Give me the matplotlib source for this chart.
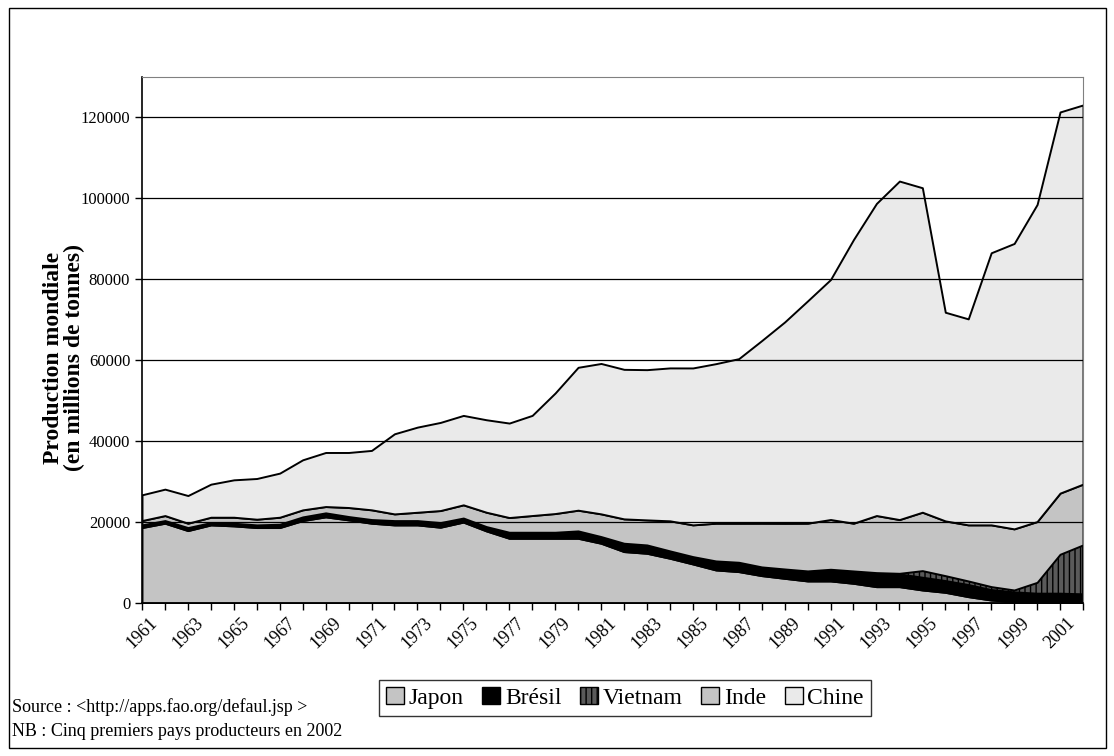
import matplotlib.pyplot as plt
from matplotlib.patches import Rectangle, Patch

years = list(range(1961, 2003))

japon = [18650, 19720, 17900, 19300, 19060, 18650, 18650, 20380, 21290, 20540,
         19720, 19300, 19300, 18730, 20000, 17820, 16000, 16000, 16000, 16000,
         14770, 12710, 12290, 11060, 9650, 8170, 7760, 6770, 6100, 5450,
         5450, 4870, 4040, 4040, 3220, 2640, 1570, 740, 330, 200, 150, 100]
bresil = [660, 660, 740, 580, 660, 660, 820, 900, 990, 830,
          910, 1070, 1070, 1150, 1000, 1070, 1490, 1490, 1490, 1820,
          1650, 2060, 2060, 1820, 1820, 2230, 2310, 2150, 2310, 2480,
          2890, 3050, 3470, 3050, 3050, 2800, 2890, 2480, 2310, 2110, 2160, 2050]
vietnam = [0] * 32 + [0, 250, 1730, 1320, 990, 830, 580, 2800, 9740, 12210]
inde = [1070, 1230, 1080, 1320, 1480, 1400, 1730, 1740, 1560, 2230,
        2400, 1650, 2060, 2970, 3260, 3550, 3630, 4130, 4620, 5120,
        5610, 6020, 6190, 7430, 7840, 9320, 9650, 10810, 11300, 11800,
        12290, 11800, 14110, 13280, 14440, 13530, 13860, 15260, 15100, 15020, 15110, 15020]
chine = [6360, 6530, 6840, 8170, 9240, 10060, 10900, 12370, 13360, 13600,
         14680, 19800, 21040, 21780, 22100, 22850, 23350, 24750, 29790, 35310,
         37170, 36960, 37130, 37790, 38780, 39430, 40670, 45130, 49750, 54940,
         59320, 70120, 77140, 83660, 80190, 51570, 50910, 67250, 70540, 78370, 94200, 93710]

series_names = ['Japon', 'Brésil', 'Vietnam', 'Inde', 'Chine']
fill_colors = ['#c4c4c4', '#000000', '#5a5a5a', '#c4c4c4', '#eaeaea']

plt.rcParams['font.family'] = ['Liberation Serif', 'DejaVu Serif']

fig = plt.figure(figsize=(11.14, 7.56), dpi=100)
ax = fig.add_axes([142 / 1114, 1 - 603 / 756, 941 / 1114, 526 / 756])

areas = ax.stackplot(years, japon, bresil, vietnam, inde, chine,
                     colors=fill_colors, edgecolor='black', linewidth=1.4)
areas[2].set_hatch('|||')

ax.set_xlim(1961, 2002)
ax.set_ylim(0, 130000)
ax.set_yticks(range(0, 120001, 20000))
ax.tick_params(axis='y', labelsize=12, direction='out', length=5, width=1)
ax.set_xticks(years)
ax.set_xticklabels([str(y) if (y - 1961) % 2 == 0 else '' for y in years],
                   rotation=45, ha='center', va='top')
ax.tick_params(axis='x', labelsize=13, direction='out', length=5, width=1, pad=3)

ax.yaxis.grid(True, color='black', linewidth=0.9)
ax.set_axisbelow(False)
for side in ['top', 'right']:
    ax.spines[side].set_color('#808080')
for side in ['left', 'bottom']:
    ax.spines[side].set_linewidth(1.2)

fig.text(64 / 1114, 1 - 358 / 756, 'Production mondiale\n(en millions de tonnes)',
         rotation=90, ha='center', va='center', fontsize=17, fontweight='bold',
         linespacing=1.0)

handles = [Patch(facecolor=c, edgecolor='black', linewidth=1) for c in fill_colors]
handles[2].set_hatch('|||')
leg = fig.legend(handles, series_names, ncol=5, loc='center',
                 bbox_to_anchor=(625 / 1114, 1 - 698 / 756), fontsize=17,
                 frameon=True, fancybox=False, edgecolor='black',
                 handlelength=0.75, handleheight=0.75, handletextpad=0.2,
                 columnspacing=0.8, borderpad=0.3)
leg.get_frame().set_linewidth(1)

fig.text(12 / 1114, 1 - 707 / 756, 'Source : <http://apps.fao.org/defaul.jsp >',
         fontsize=13, va='center')
fig.text(12 / 1114, 1 - 732 / 756, 'NB : Cinq premiers pays producteurs en 2002',
         fontsize=13, va='center')

fig.patches.append(Rectangle((9 / 1114, 8 / 756), 1097 / 1114, 740 / 756,
                             transform=fig.transFigure, fill=False,
                             edgecolor='black', linewidth=1))

fig.savefig('out.png', dpi=100)
